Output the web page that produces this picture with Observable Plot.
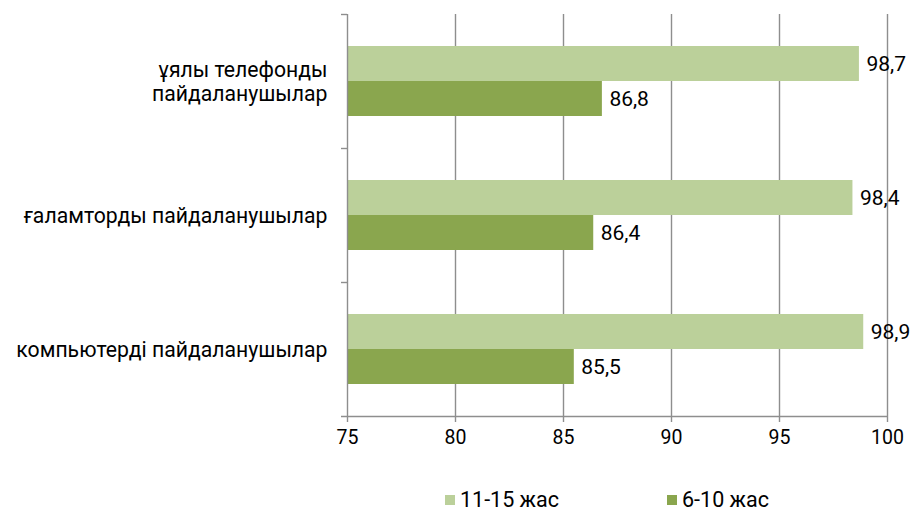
<!DOCTYPE html>
<html>
<head>
<meta charset="utf-8">
<script src="https://cdn.jsdelivr.net/npm/d3@7"></script>
<script src="https://cdn.jsdelivr.net/npm/@observablehq/plot@0.6"></script>
<style>
  html, body { margin: 0; padding: 0; background: #fff; }
  #chart { width: 915px; font-family: Roboto, sans-serif; }
  .legend { display: flex; gap: 108px; margin-left: 445px; margin-top: 28px; font-size: 21.5px; color: #000; }
  .legend .item { display: flex; align-items: center; gap: 5px; line-height: 24px; }
  .legend .sw { width: 10px; height: 10px; display: inline-block; }
</style>
</head>
<body>
<div id="chart"></div>
<script>
const categories = ["ұялы телефонды пайдаланушылар", "ғаламторды пайдаланушылар", "компьютерді пайдаланушылар"];
const categoryLabels = ["ұялы телефонды\nпайдаланушылар", "ғаламторды пайдаланушылар", "компьютерді пайдаланушылар"];
const seriesNames = ["11-15 жас", "6-10 жас"];
const values1115 = [98.7, 98.4, 98.9];
const values610 = [86.8, 86.4, 85.5];
const xTicks = [75, 80, 85, 90, 95, 100];
const colors = ["#BBD09A", "#8AA64E"];

const gridColor = "#8E8E8E";
const d1 = categories.map((c, i) => ({category: c, value: values1115[i]}));
const d2 = categories.map((c, i) => ({category: c, value: values610[i]}));
const fmt = v => v.toFixed(1).replace(".", ",");

const plot = Plot.plot({
  width: 915,
  height: 460,
  marginTop: 14,
  marginBottom: 44,
  marginLeft: 347,
  marginRight: 28,
  style: {fontFamily: "Roboto, sans-serif", fontSize: "20px", color: "#000", background: "#fff"},
  x: {domain: [75, 100], axis: null},
  y: {domain: categories, padding: 0, axis: null},
  marks: [
    Plot.ruleX(xTicks.slice(1), {stroke: gridColor, strokeWidth: 1.4}),
    Plot.barX(d1, {x1: 75, x2: "value", y: "category", fill: colors[0], insetTop: 32, insetBottom: 67, insetLeft: 1}),
    Plot.barX(d2, {x1: 75, x2: "value", y: "category", fill: colors[1], insetTop: 67, insetBottom: 32, insetLeft: 1}),
    Plot.ruleX([75], {stroke: gridColor, strokeWidth: 1.4}),
    Plot.ruleY(categories, {y: d => d, x1: 75, x2: 75, insetLeft: -6, dy: -67, stroke: gridColor, strokeWidth: 1.4}),
    Plot.ruleY([categories[categories.length - 1]], {y: d => d, x1: 75, x2: 100, insetLeft: -6, dy: 67, stroke: gridColor, strokeWidth: 1.4}),
    Plot.axisX(xTicks, {anchor: "bottom", tickSize: 6, tickPadding: 8, fontSize: 19.5, stroke: gridColor, strokeWidth: 1.4, fill: "#000", label: null}),
    Plot.text(d1, {x: "value", y: "category", text: d => fmt(d.value), dx: 7, dy: -17.5, textAnchor: "start", fontSize: 21, fill: "#000"}),
    Plot.text(d2, {x: "value", y: "category", text: d => fmt(d.value), dx: 7, dy: 17.5, textAnchor: "start", fontSize: 21, fill: "#000"}),
    Plot.text(categories, {y: d => d, text: (d, i) => categoryLabels[i], frameAnchor: "left", textAnchor: "end", dx: -20, fontSize: 21.2, lineHeight: 1.11, fill: "#000"})
  ]
});

const chart = document.getElementById("chart");
chart.appendChild(plot);

const legend = document.createElement("div");
legend.className = "legend";
seriesNames.forEach((name, i) => {
  const item = document.createElement("div");
  item.className = "item";
  const sw = document.createElement("span");
  sw.className = "sw";
  sw.style.background = colors[i];
  const label = document.createElement("span");
  label.textContent = name;
  item.appendChild(sw);
  item.appendChild(label);
  legend.appendChild(item);
});
chart.appendChild(legend);
</script>
</body>
</html>
